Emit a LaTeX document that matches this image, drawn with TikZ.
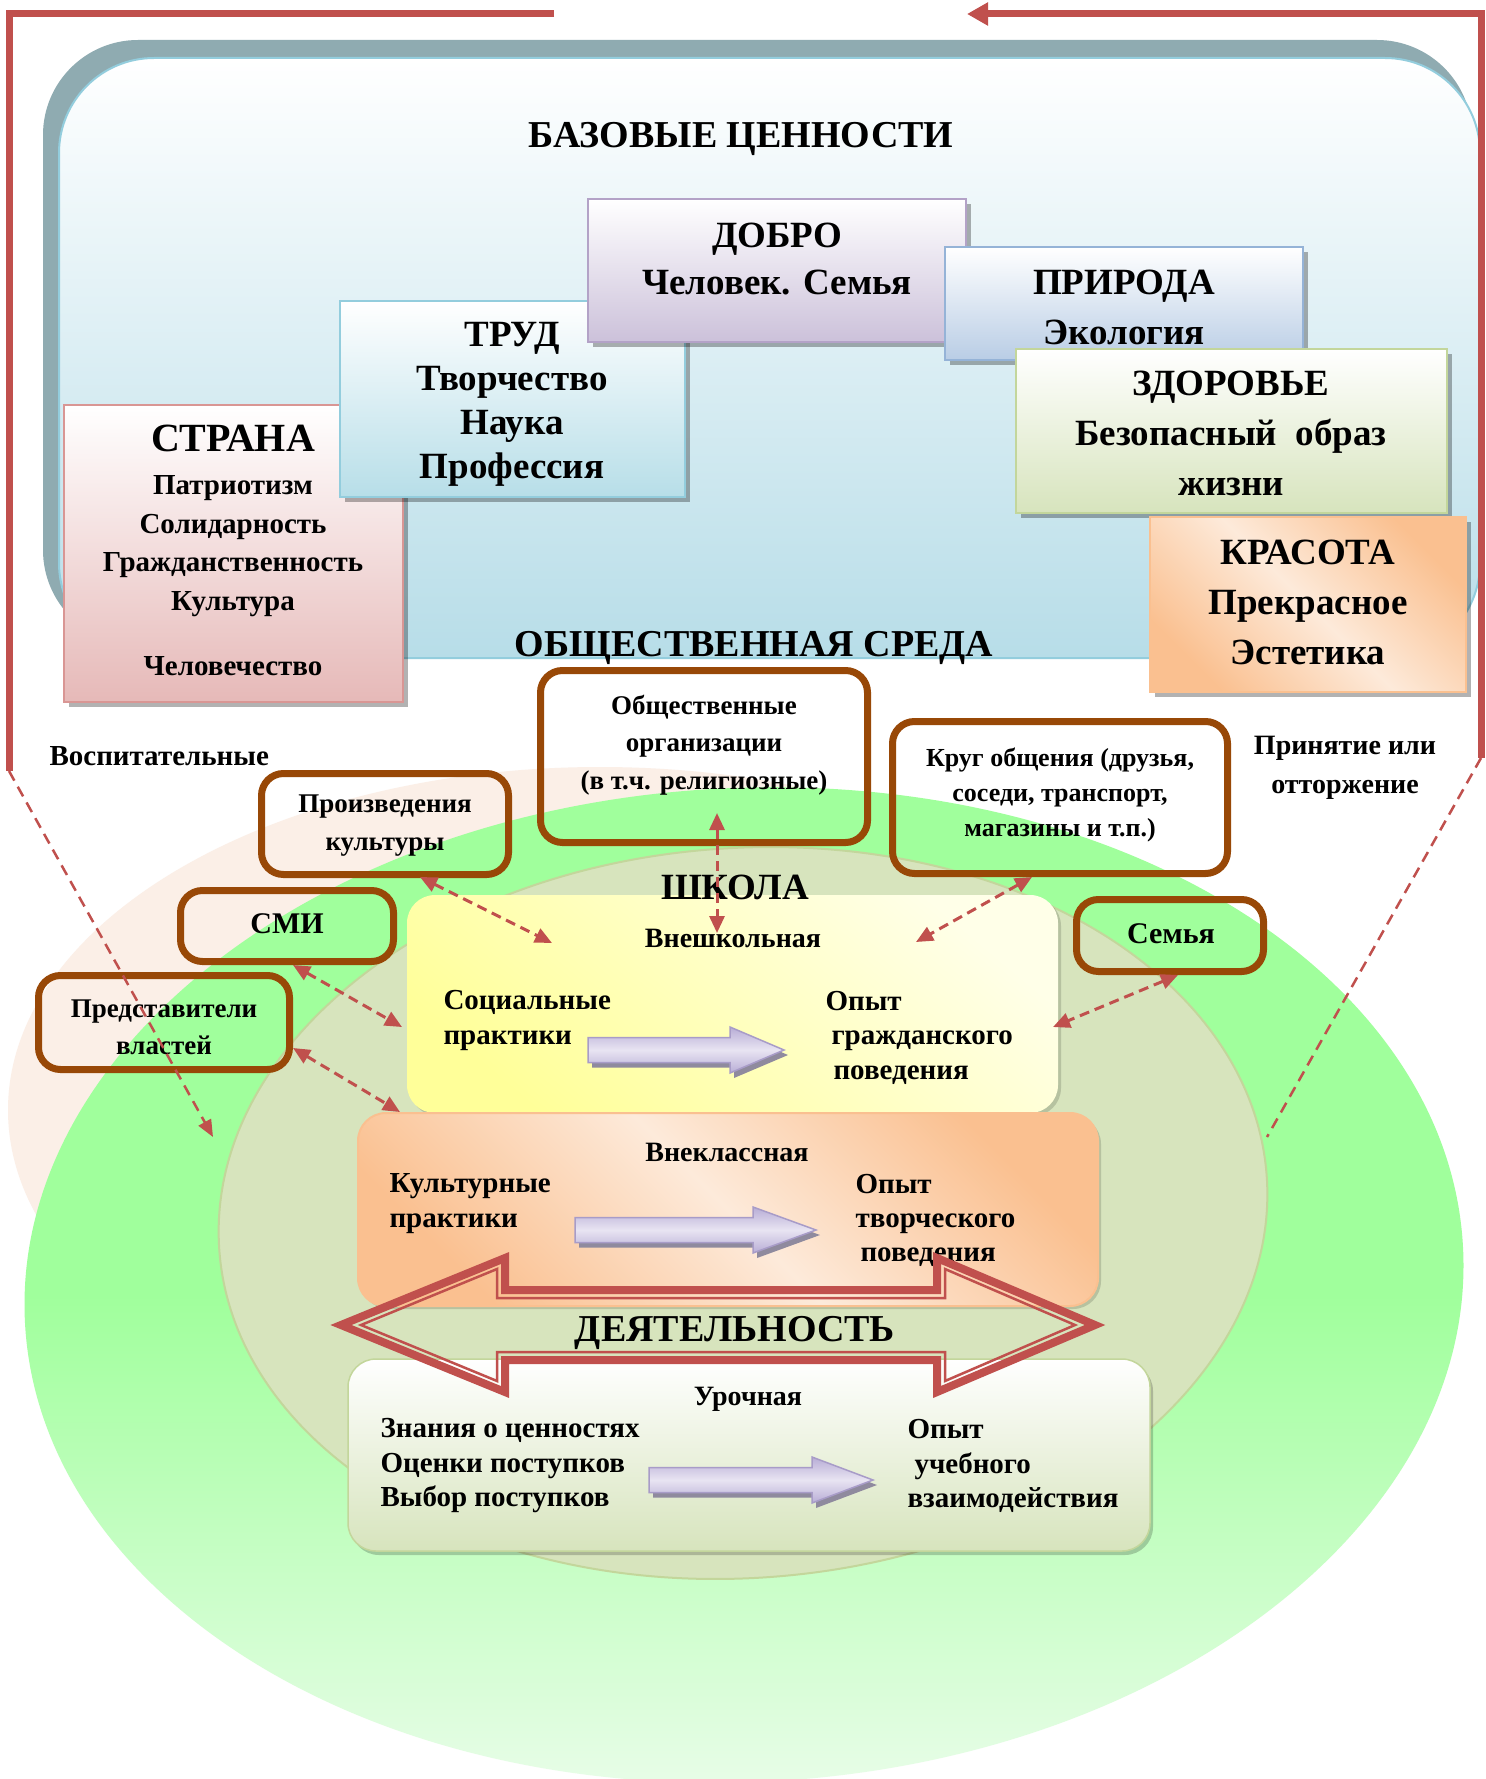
\documentclass[tikz,border=0pt]{standalone}
\usepackage{fontspec}
\setmainfont{Liberation Serif}
\usetikzlibrary{arrows.meta,shadows}

\definecolor{framered}{HTML}{C0504D}
\definecolor{brownline}{HTML}{984807}
\definecolor{topshade}{HTML}{8FABB1}
\definecolor{topborder}{HTML}{93CDDD}
\definecolor{topblue}{HTML}{B7DDE8}
\definecolor{stranabot}{HTML}{E6B9B8}
\definecolor{stranabd}{HTML}{D99694}
\definecolor{trudbot}{HTML}{B7DEE8}
\definecolor{trudbd}{HTML}{93CDDD}
\definecolor{dobrobot}{HTML}{CCC1DA}
\definecolor{dobrobd}{HTML}{B3A2C7}
\definecolor{prirodabot}{HTML}{B9CDE5}
\definecolor{prirodabd}{HTML}{95B3D7}
\definecolor{olivebg}{HTML}{D7E4BD}
\definecolor{olivebd}{HTML}{C3D69B}
\definecolor{orangec}{HTML}{FAC090}
\definecolor{peachlight}{HTML}{FDEADA}
\definecolor{peachbg}{HTML}{FBEFE7}
\definecolor{greentop}{HTML}{A0FF9C}
\definecolor{greenbot}{HTML}{EAFDEA}
\definecolor{yellowc}{HTML}{FFFF99}
\definecolor{yellowlight}{HTML}{FFFFE8}
\definecolor{lavtop}{HTML}{B8ADD6}
\definecolor{lavmid}{HTML}{E8E4F2}
\definecolor{lavbd}{HTML}{A89CC8}
\definecolor{lavshadow}{HTML}{8F8A9E}

\newcommand{\txtsize}[2]{\fontsize{#1}{#2}\selectfont\bfseries}

\tikzset{
  valbox/.style 2 args={draw=#2, line width=2pt, top color=white, bottom color=#1,
    inner sep=0pt, drop shadow={shadow xshift=5pt, shadow yshift=-5pt, fill=black, opacity=.3}},
  orangebox/.style={draw=orangec, line width=2pt, top color=orangec, bottom color=orangec,
    middle color=peachlight, shading angle=-45, inner sep=0pt},
  brownbox/.style={draw=brownline, line width=7pt, rounded corners=22pt, inner sep=0pt},
  schoolbox/.style={rounded corners=28pt, inner sep=0pt, line width=1.5pt},
  linkdash/.style={draw=framered, line width=3pt, dash pattern=on 10pt off 6pt,
    {Triangle[length=17pt,width=15pt]}-{Triangle[length=17pt,width=15pt]}},
  framedash/.style={draw=framered, line width=2.5pt, dash pattern=on 11pt off 7pt},
  frameline/.style={draw=framered, line width=7pt},
  lavarrow/.style={draw=lavbd, line width=1.5pt, top color=lavtop, bottom color=lavtop, middle color=lavmid},
}

\begin{document}
\begin{tikzpicture}[x=1pt, y=-1pt]
\useasboundingbox (0,0) rectangle (1485,1779);
\fill[white] (0,0) rectangle (1485,1779);

% базовые ценности
\fill[topshade, rounded corners=95pt] (43,40) rectangle (1472,645);
\draw[topborder, line width=2pt, top color=white, bottom color=topblue, rounded corners=95pt] (59,58) rectangle (1480,658);

\node[valbox={stranabot}{stranabd}, minimum width=339pt, minimum height=297pt] (strana) at (233.5,553.5) {};
\node[valbox={trudbot}{trudbd}, minimum width=345pt, minimum height=196pt] (trud) at (512.5,399) {};
\node[valbox={dobrobot}{dobrobd}, minimum width=378pt, minimum height=143pt] (dobro) at (777,270.5) {};
\node[valbox={prirodabot}{prirodabd}, minimum width=358pt, minimum height=113pt] (priroda) at (1124,303.5) {};
\node[valbox={olivebg}{olivebd}, minimum width=431pt, minimum height=164pt] (zdorov) at (1231.5,431) {};
\node[orangebox, drop shadow={shadow xshift=5pt, shadow yshift=-5pt, fill=black, opacity=.3},
  minimum width=316pt, minimum height=175pt] (krasota) at (1308,604.5) {};

\node[font=\txtsize{38}{44}] (basetitle) at (741,139) {БАЗОВЫЕ ЦЕННОСТИ};
\node[font=\txtsize{40}{46}] (stranatitle) at (233,438) {СТРАНА};
\node[font=\txtsize{29}{38.5}, align=center] (stranatxt) at (233,576)
  {Патриотизм\\Солидарность\\Гражданственность\\Культура\\[27pt]Человечество};
\node[font=\txtsize{37}{44}, align=center] (trudtxt) at (512,404) {ТРУД\\Творчество\\Наука\\Профессия};
\node[font=\txtsize{37}{47}, align=center] (dobrotxt) at (777,259) {ДОБРО\\Человек. Семья};
\node[font=\txtsize{37}{50}, align=center] (prirodatxt) at (1124,307) {ПРИРОДА\\Экология};
\node[font=\txtsize{37}{50}, align=center] (zdorovtxt) at (1231,433) {ЗДОРОВЬЕ\\Безопасный~~образ\\жизни};
\node[font=\txtsize{37}{50}, align=center] (krasotatxt) at (1308,602) {КРАСОТА\\Прекрасное\\Эстетика};
\node[font=\txtsize{38}{44}] (sreda) at (754,648) {ОБЩЕСТВЕННАЯ СРЕДА};

% рамка
\draw[frameline] (554,14) -- (9,14) -- (9,771) coordinate (leftfoot);
\draw[frameline, -{Triangle[length=21pt,width=22pt]}] (1481,758) coordinate (rightfoot) -- (1481,14) -- (967,14);

% школа
\fill[peachbg] (600,1110) ellipse [x radius=592, y radius=343];
\shade[top color=greentop, bottom color=greenbot, middle color=greentop, rotate around={3:(744,1285)}]
  (744,1285) ellipse [x radius=720, y radius=497];
\draw[olivebd, fill=olivebg, line width=2pt, rotate around={4:(743,1213)}]
  (743,1213) ellipse [x radius=525, y radius=365];

\node[schoolbox, top color=yellowlight, bottom color=yellowc, shading angle=-40,
  drop shadow={shadow xshift=3pt, shadow yshift=-3pt, fill=black, opacity=.15},
  minimum width=651pt, minimum height=218pt] (vnesh) at (732.5,1004) {};
\node[schoolbox, orangebox, rounded corners=28pt,
  drop shadow={shadow xshift=3pt, shadow yshift=-3pt, fill=black, opacity=.15},
  minimum width=740pt, minimum height=193pt] (vnekl) at (728,1209.5) {};
\node[schoolbox, draw=olivebd, top color=white, bottom color=olivebg,
  drop shadow={shadow xshift=3pt, shadow yshift=-4pt, fill=black, opacity=.2},
  minimum width=802pt, minimum height=192pt] (uroch) at (749,1455) {};

\foreach \ax/\ah/\at/\ay in {588/730/784/1050, 575/753/816/1230, 649/812/873/1480}{
  \fill[lavshadow, shift={(4,5)}] (\ax,\ay-12.5) -- (\ah,\ay-12.5) -- (\ah,\ay-23) -- (\at,\ay)
    -- (\ah,\ay+23) -- (\ah,\ay+12.5) -- (\ax,\ay+12.5) -- cycle;
  \draw[lavarrow] (\ax,\ay-12.5) -- (\ah,\ay-12.5) -- (\ah,\ay-23) -- (\at,\ay)
    -- (\ah,\ay+23) -- (\ah,\ay+12.5) -- (\ax,\ay+12.5) -- cycle;
}

\node[font=\txtsize{28}{32}] (vneshtxt) at (733,938) {Внешкольная};
\node[font=\txtsize{29}{35}, align=left, anchor=west] (socprak) at (440,1020.5) {Социальные\\практики};
\node[font=\txtsize{29}{34.5}, align=left, anchor=west] (opytgr) at (822,1037.5)
  {Опыт\\\hspace*{6pt}гражданского\\\hspace*{8pt}поведения};
\node[font=\txtsize{28}{32}] (vnekltxt) at (727,1152) {Внеклассная};
\node[font=\txtsize{29}{35}, align=left, anchor=west] (kultprak) at (386,1203.5) {Культурные\\практики};
\node[font=\txtsize{29}{34}, align=left, anchor=west] (opyttv) at (852,1220)
  {Опыт\\творческого\\\hspace*{5pt}поведения};
\node[font=\txtsize{28}{32}] (urochtxt) at (748,1399) {Урочная};
\node[font=\txtsize{29}{34.5}, align=left, anchor=west] (znaniya) at (377,1466)
  {Знания о ценностях\\Оценки поступков\\Выбор поступков};
\node[font=\txtsize{29}{34.5}, align=left, anchor=west] (opytuch) at (904,1466)
  {Опыт\\\hspace*{7pt}учебного\\взаимодействия};

% деятельность
\draw[framered, line width=8pt] (341,1325) -- (505,1258) -- (505,1290) -- (937,1290) -- (937,1258)
  -- (1095,1325) -- (937,1392) -- (937,1360) -- (505,1360) -- (505,1392) -- cycle;
\draw[framered, line width=2.5pt] (361,1325) -- (497,1269) -- (497,1298) -- (945,1298) -- (945,1269)
  -- (1075,1325) -- (945,1381) -- (945,1352) -- (497,1352) -- (497,1381) -- cycle;
\node[font=\txtsize{38}{44}] (deyat) at (735,1333) {ДЕЯТЕЛЬНОСТЬ};

% общественная среда
\node[brownbox, minimum width=327pt, minimum height=172pt] (obsch) at (704,756.5) {};
\node[brownbox, minimum width=247pt, minimum height=101pt] (proizv) at (385,824) {};
\node[brownbox, minimum width=213pt, minimum height=71pt] (smi) at (287,926) {};
\node[brownbox, minimum width=251pt, minimum height=94pt] (vlast) at (164,1022.5) {};
\node[brownbox, minimum width=335pt, minimum height=152pt] (krug) at (1060,797.5) {};
\node[brownbox, minimum width=187pt, minimum height=72pt] (semya) at (1170,935.5) {};

\node[font=\txtsize{27}{37.5}, align=center] (obschtxt) at (704,745)
  {Общественные\\организации\\(в т.ч. религиозные)};
\node[font=\txtsize{27}{38}, align=center] (proizvtxt) at (385,826) {Произведения\\культуры};
\node[font=\txtsize{30}{36}] (smitxt) at (287,924) {СМИ};
\node[font=\txtsize{27}{37}, align=center] (vlasttxt) at (164,1027) {Представители\\властей};
\node[font=\txtsize{26}{35}, align=center] (krugtxt) at (1060,795)
  {Круг общения (друзья,\\соседи, транспорт,\\магазины и т.п.)};
\node[font=\txtsize{30}{36}] (semyatxt) at (1171,934) {Семья};
\node[font=\txtsize{29}{34}, anchor=west] (vospit) at (46,756) {Воспитательные};
\node[font=\txtsize{28}{39}, align=center] (prinyat) at (1345,768) {Принятие или\\отторжение};
\node[font=\txtsize{37}{44}] (shkola) at (735,887) {ШКОЛА};

% связи
\coordinate (obschend) at (717,813);
\coordinate (vneshtop) at (717,933);
\coordinate (proizvend) at (420,877);
\coordinate (vneshleft) at (552,943);
\coordinate (krugend) at (1032,877);
\coordinate (vneshright) at (916,942);
\coordinate (smiend) at (293,965);
\coordinate (vneshside) at (402,1027);
\coordinate (vlastend) at (293,1048);
\coordinate (vneklcorner) at (400,1112);
\coordinate (semyaend) at (1178,975);
\coordinate (vneshedge) at (1053,1027);
\coordinate (leftend) at (213,1137);
\coordinate (rightend) at (1267,1137);

\draw[linkdash] (obschend) -- (vneshtop);
\draw[linkdash] (proizvend) -- (vneshleft);
\draw[linkdash] (krugend) -- (vneshright);
\draw[linkdash] (smiend) -- (vneshside);
\draw[linkdash] (vlastend) -- (vneklcorner);
\draw[linkdash] (semyaend) -- (vneshedge);
\draw[framedash, -{Triangle[length=17pt,width=14pt]}] (leftfoot) -- (leftend);
\draw[framedash] (rightfoot) -- (rightend);
\end{tikzpicture}
\end{document}
